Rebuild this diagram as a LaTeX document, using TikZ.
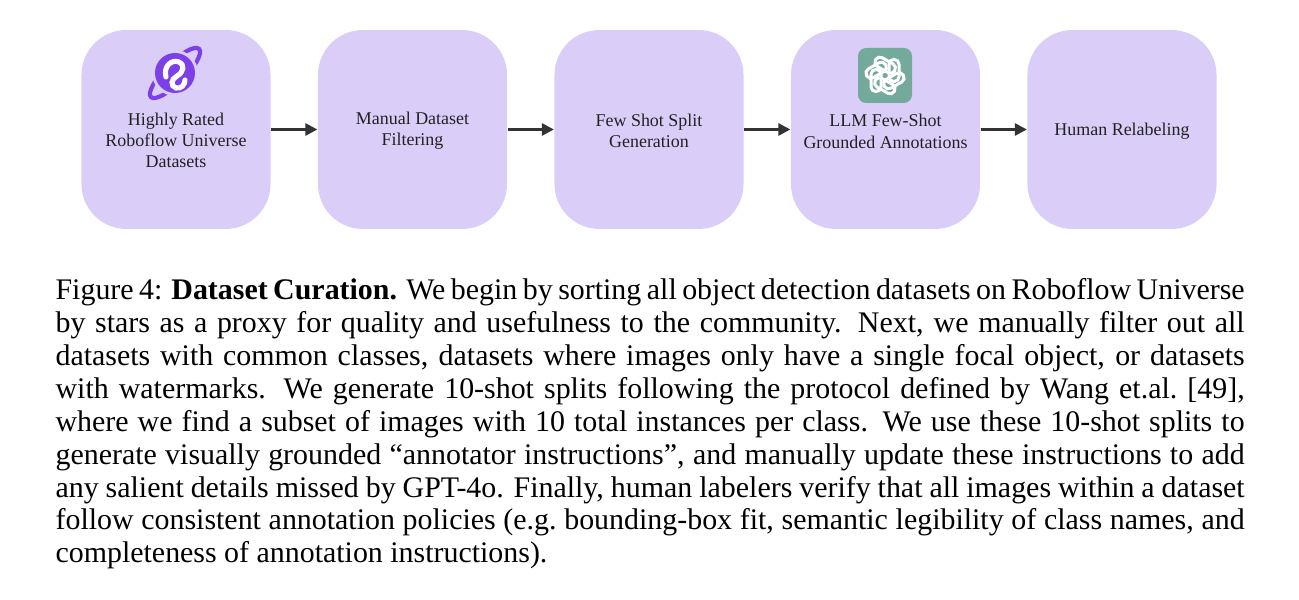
\documentclass[tikz,border=0pt]{standalone}
\usepackage{fontspec}
\setmainfont{Liberation Serif}
\usetikzlibrary{arrows.meta}
\definecolor{boxfill}{RGB}{218,206,249}
\definecolor{rfpurple}{RGB}{125,64,232}
\definecolor{gptgreen}{RGB}{116,170,156}
\definecolor{arrowgray}{RGB}{51,51,51}
\begin{document}
\begin{tikzpicture}[x=0.3343pt, y=-0.3343pt,
    stagebox/.style={fill=boxfill, rounded corners=15pt, minimum width=63.2pt, minimum height=66.5pt, inner sep=0pt},
    stagetext/.style={align=center, inner sep=0pt, text=black!87, font=\fontsize{6}{7.1}\selectfont},
    flow/.style={arrowgray, line width=0.9pt, -{Triangle[length=4pt,width=4pt]}}]
    \useasboundingbox (0,0) rectangle (1299,600);
    % stages
    \node[stagebox] (source) at (176,129.5) {};
    \node[stagebox] (filter) at (412.5,129.5) {};
    \node[stagebox] (split) at (649,129.5) {};
    \node[stagebox] (llm) at (885.5,129.5) {};
    \node[stagebox] (relabel) at (1122,129.5) {};
    \node[stagetext] (sourcetext) at ([yshift=-3.6pt]source.center) {Highly Rated\\Roboflow Universe\\Datasets};
    \node[stagetext] (filtertext) at ([yshift=-0.5pt]filter.center) {Manual Dataset\\Filtering};
    \node[stagetext] (splittext) at ([yshift=-0.5pt]split.center) {Few Shot Split\\Generation};
    \node[stagetext] (llmtext) at ([yshift=-0.6pt]llm.center) {LLM Few-Shot\\Grounded Annotations};
    \node[stagetext] (relabeltext) at ([yshift=-0.5pt]relabel.center) {Human Relabeling};
    \draw[flow] (source) -- (filter);
    \draw[flow] (filter) -- (split);
    \draw[flow] (split) -- (llm);
    \draw[flow] (llm) -- (relabel);
    % roboflow universe logo
    \begin{scope}[shift={(175,73)}]
      \draw[rfpurple, line width=1.4pt, rotate=45] (0,0) ellipse (34 and 10);
      \fill[boxfill] (0,0) circle (23);
      \fill[rfpurple] (0,0) circle (20);
      \draw[white, line width=1.7pt, line cap=round] (-9,4) .. controls (-12,-7) and (-3,-14) .. (4,-11)
        .. controls (10,-8) and (9,-1) .. (2,3) .. controls (-4,6) and (-5,13) .. (1,15)
        .. controls (6,16) and (10,12) .. (10,7);
    \end{scope}
    % openai logo
    \begin{scope}[shift={(885,75.5)}]
      \fill[gptgreen, rounded corners=2.7pt] (-27,-27.5) rectangle (27,27.5);
      \foreach \a in {0,60,...,300}
        \draw[white, line width=1pt, rounded corners=1.6pt, rotate=\a] (4,-16) rectangle (14,6);
    \end{scope}
    % caption
    \node[anchor=north west, inner sep=0pt, text width=397.5pt, align=justify,
      font=\fontsize{10}{11}\selectfont] (caption) at (55,276) {\noindent\strut Figure 4: \textbf{Dataset Curation.}
      We begin by sorting all object detection datasets on Roboflow Universe by stars as a proxy for quality
      and usefulness to the community. Next, we manually filter out all datasets with common classes,
      datasets where images only have a single focal object, or datasets with watermarks. We generate
      10-shot splits following the protocol defined by Wang et.al.\ [49], where we find a subset of images
      with 10 total instances per class. We use these 10-shot splits to generate visually grounded
      ``annotator instructions'', and manually update these instructions to add any salient details missed
      by GPT-4o. Finally, human labelers verify that all images within a dataset follow consistent
      annotation policies (e.g.\ bounding-box fit, semantic legibility of class names, and completeness of
      annotation instructions).};
\end{tikzpicture}
\end{document}
